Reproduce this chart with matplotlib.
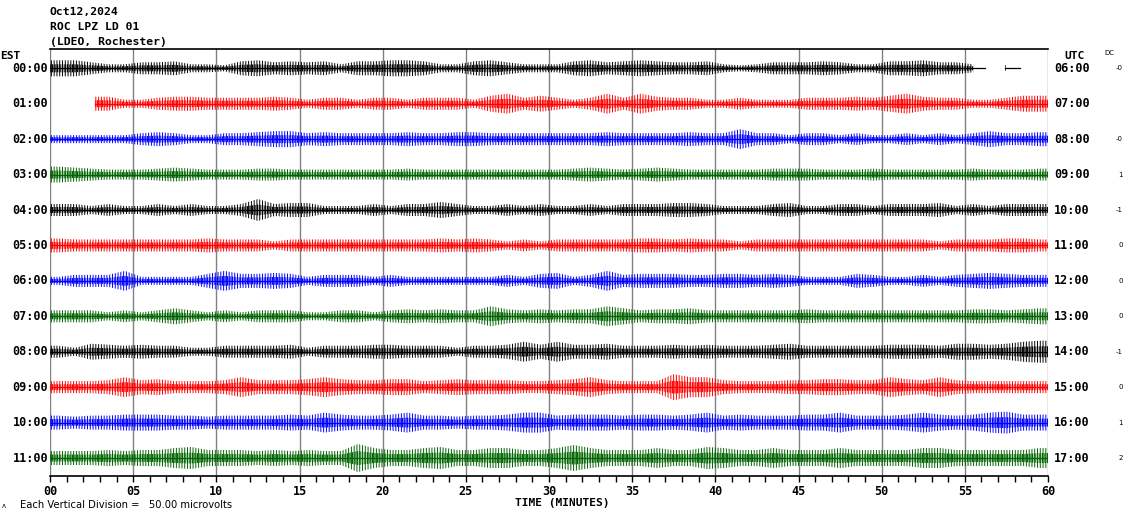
import numpy as np
import matplotlib
matplotlib.use("Agg")
import matplotlib.pyplot as plt
import matplotlib.transforms as mtransforms

# ---------------- data ----------------
title_lines = ["Oct12,2024", "ROC LPZ LD 01", "(LDEO, Rochester)"]
est_labels = ["00:00", "01:00", "02:00", "03:00", "04:00", "05:00",
              "06:00", "07:00", "08:00", "09:00", "10:00", "11:00"]
utc_labels = ["06:00", "07:00", "08:00", "09:00", "10:00", "11:00",
              "12:00", "13:00", "14:00", "15:00", "16:00", "17:00"]
dc_values = ["-0", "", "-0", "1", "-1", "0", "0", "0", "-1", "0", "1", "2"]
trace_colors = ["black", "#ff0000", "#0000ff", "#006400"]
minute_ticks = list(range(0, 61, 5))
minute_tick_labels = ["00", "05", "10", "15", "20", "25", "30",
                      "35", "40", "45", "50", "55", "60"]

# time spans (minutes) where each line has data
trace_spans = [[(0.0, 56.2), (57.4, 58.3)], [(2.7, 60.0)]] + [[(0.0, 60.0)]] * 10

# per-minute peak half amplitude of each trace (display pixels)
nan = np.nan
amp_00 = [8, 8, 6, 4, 4, 6, 6, 7, 4, 4, 3, 7, 8, 6, 7, 6, 7, 4, 7, 7,
          8, 8, 7, 4, 4, 7, 8, 6, 4, 4, 4, 7, 8, 6, 7, 8, 7, 6, 6, 7,
          4, 3, 4, 6, 6, 6, 7, 6, 4, 4, 7, 7, 8, 6, 6, 4, nan, 6, nan, nan]
amp_01 = [nan, nan, 7, 7, 4, 4, 6, 7, 7, 6, 6, 6, 6, 7, 6, 4, 6, 6, 4, 6,
          6, 4, 6, 6, 6, 4, 8, 10, 6, 8, 6, 4, 6, 10, 6, 10, 7, 6, 6, 4,
          4, 6, 4, 4, 4, 6, 6, 6, 7, 6, 8, 10, 7, 6, 6, 4, 4, 6, 8, 8]
amp_02 = [4, 4, 4, 4, 4, 6, 7, 6, 4, 4, 6, 6, 7, 8, 8, 6, 7, 6, 6, 6,
          6, 7, 6, 6, 7, 7, 6, 6, 6, 6, 6, 6, 6, 7, 6, 6, 6, 6, 7, 6,
          6, 10, 6, 6, 4, 6, 6, 4, 6, 4, 4, 6, 4, 6, 4, 6, 8, 6, 6, 7]
amp_03 = [8, 7, 6, 5, 5, 5, 6, 7, 6, 5, 5, 5, 6, 6, 5, 5, 5, 5, 5, 5,
          5, 6, 5, 5, 5, 5, 5, 5, 5, 5, 5, 6, 7, 6, 5, 6, 7, 6, 5, 5,
          5, 5, 5, 6, 6, 6, 5, 5, 5, 6, 5, 5, 5, 5, 5, 6, 5, 5, 5, 6]
amp_04 = [6, 6, 4, 6, 4, 4, 6, 4, 6, 4, 4, 6, 11, 6, 7, 7, 4, 4, 4, 6,
          4, 6, 6, 8, 6, 4, 4, 6, 4, 6, 4, 4, 6, 4, 6, 6, 6, 7, 7, 6,
          4, 4, 4, 6, 7, 4, 4, 6, 6, 4, 6, 6, 6, 7, 4, 6, 4, 6, 6, 6]
amp_05 = [7, 6, 6, 6, 6, 6, 6, 6, 6, 7, 6, 6, 6, 4, 6, 6, 6, 6, 6, 6,
          6, 6, 6, 7, 6, 7, 6, 4, 6, 4, 6, 6, 6, 6, 6, 7, 7, 6, 7, 6,
          6, 4, 6, 6, 6, 6, 6, 6, 6, 6, 6, 6, 6, 4, 6, 6, 6, 7, 7, 6]
amp_06 = [4, 6, 6, 6, 10, 4, 4, 4, 4, 7, 10, 7, 7, 8, 7, 4, 6, 6, 6, 4,
          6, 4, 4, 4, 4, 4, 4, 6, 4, 7, 8, 4, 6, 10, 6, 7, 7, 7, 6, 6,
          7, 7, 6, 7, 6, 4, 4, 4, 7, 6, 4, 4, 6, 4, 6, 7, 8, 7, 6, 6]
amp_07 = [6, 6, 6, 4, 6, 4, 6, 8, 6, 4, 6, 4, 6, 6, 6, 4, 4, 6, 6, 4,
          6, 7, 6, 7, 6, 6, 10, 7, 6, 7, 6, 7, 7, 10, 8, 6, 7, 7, 8, 6,
          6, 6, 6, 6, 6, 7, 6, 6, 6, 6, 6, 6, 6, 6, 6, 7, 7, 6, 7, 8]
amp_08 = [6, 4, 8, 7, 6, 7, 6, 6, 4, 4, 6, 6, 6, 6, 7, 4, 6, 6, 6, 7,
          7, 6, 6, 6, 4, 6, 6, 7, 10, 7, 10, 7, 7, 8, 6, 6, 6, 7, 6, 7,
          6, 6, 6, 7, 8, 6, 6, 6, 6, 6, 7, 7, 7, 6, 8, 8, 7, 8, 10, 11]
amp_09 = [6, 6, 6, 7, 10, 7, 8, 6, 6, 6, 7, 10, 7, 7, 7, 8, 10, 8, 7, 7,
          8, 8, 6, 7, 8, 7, 7, 7, 6, 6, 7, 8, 10, 7, 6, 6, 6, 13, 10, 10,
          7, 6, 6, 6, 7, 7, 8, 8, 7, 7, 10, 8, 7, 10, 7, 6, 6, 6, 6, 6]
amp_10 = [7, 6, 7, 7, 8, 8, 8, 7, 7, 6, 7, 7, 7, 7, 8, 7, 10, 8, 7, 7,
          8, 10, 7, 7, 6, 7, 7, 8, 10, 10, 7, 8, 8, 8, 7, 8, 8, 7, 8, 10,
          7, 8, 7, 7, 7, 8, 8, 10, 7, 7, 7, 8, 10, 8, 7, 8, 10, 11, 8, 8]
amp_11 = [7, 7, 7, 8, 7, 8, 8, 10, 11, 8, 8, 8, 7, 8, 7, 8, 7, 7, 14, 10,
          8, 8, 10, 11, 8, 8, 10, 10, 8, 8, 10, 13, 10, 8, 8, 8, 10, 8, 8, 11,
          10, 8, 8, 10, 8, 8, 8, 10, 8, 8, 8, 8, 10, 10, 8, 8, 8, 8, 8, 10]
amplitudes = [amp_00, amp_01, amp_02, amp_03, amp_04, amp_05,
              amp_06, amp_07, amp_08, amp_09, amp_10, amp_11]

# ---------------- figure ----------------
W, H = 1130, 519
fig = plt.figure(figsize=(W / 100, H / 100), dpi=100)
plt.rcParams["hatch.linewidth"] = 0.7

ax_l, ax_r, ax_t, ax_b = 50, 1048, 49, 475.5
ax = fig.add_axes([ax_l / W, 1 - ax_b / H, (ax_r - ax_l) / W, (ax_b - ax_t) / H])
row_px = 35.43
ax.set_xlim(0, 60)
ax.set_ylim((ax_b - 68.3) / row_px, (ax_t - 68.3) / row_px)

for m in minute_ticks:
    ax.axvline(m, color="#808080", lw=1, zorder=1)

for i, amps in enumerate(amplitudes):
    col = trace_colors[i % 4]
    a = np.asarray(amps, dtype=float) / row_px
    for (s, e) in trace_spans[i]:
        idx = [k for k in range(60) if s <= k + 0.5 <= e]
        xs = [s] + [k + 0.5 for k in idx] + [e]
        first = int(min(int(s), 59))
        last = int(min(int(e - 1e-6), 59))
        vals = np.array([a[first]] + [a[k] for k in idx] + [a[last]])
        xs = np.array(xs)
        # outer envelope: sparse strokes; inner core: dense strokes
        ax.fill_between(xs, i - vals, i + vals, facecolor="none",
                        edgecolor=col, hatch="|" * 6, linewidth=0, zorder=2)
        ax.fill_between(xs, i - 0.5 * vals, i + 0.5 * vals, facecolor="none",
                        edgecolor=col, hatch="|" * 10, linewidth=0, zorder=2)
        ax.plot([s, e], [i, i], color=col, lw=0.9, zorder=3)

ax.set_xticks(minute_ticks)
ax.set_xticklabels(minute_tick_labels, fontfamily="DejaVu Sans Mono",
                   fontweight="bold", fontsize=8.5)
ax.set_xticks(range(61), minor=True)
ax.tick_params(axis="x", which="both", direction="out", length=4, width=1,
               color="black", pad=3)
ax.set_yticks([])
for side in ["left", "right"]:
    ax.spines[side].set_visible(False)
ax.spines["top"].set_linewidth(1.2)
ax.spines["bottom"].set_linewidth(1.2)

# ---------------- text ----------------
def fx(x):
    return x / W

def fy(y):
    return 1 - y / H

mono = "DejaVu Sans Mono"
for k, line in enumerate(title_lines):
    fig.text(fx(50), fy(12 + 15 * k), line, fontfamily=mono, fontweight="bold",
             fontsize=8.2, ha="left", va="center")

tr = mtransforms.blended_transform_factory(fig.transFigure, ax.transData)
for i in range(12):
    fig.text(fx(48), i, est_labels[i], transform=tr, fontfamily=mono,
             fontweight="bold", fontsize=8.5, ha="right", va="center")
    fig.text(fx(1054), i, utc_labels[i], transform=tr, fontfamily=mono,
             fontweight="bold", fontsize=8.5, ha="left", va="center")
    if dc_values[i]:
        fig.text(fx(1123), i, dc_values[i], transform=tr, fontfamily="DejaVu Sans",
                 fontsize=5, ha="right", va="center")

fig.text(fx(0), fy(56), "EST", fontfamily=mono, fontweight="bold", fontsize=8,
         ha="left", va="center")
fig.text(fx(1064), fy(56), "UTC", fontfamily=mono, fontweight="bold", fontsize=8,
         ha="left", va="center")
fig.text(fx(1104), fy(53), "DC", fontfamily="DejaVu Sans", fontsize=5,
         ha="left", va="center")
fig.text(fx(562), fy(503), "TIME (MINUTES)", fontfamily=mono, fontweight="bold",
         fontsize=8, ha="center", va="center")
fig.text(fx(20), fy(505), "Each Vertical Division =   50.00 microvolts",
         fontfamily="DejaVu Sans", fontsize=7.2, ha="left", va="center")
fig.text(fx(2), fy(506), "\u028c", fontfamily="DejaVu Sans", fontsize=5,
         ha="left", va="center")

fig.savefig("out.png", dpi=100)
